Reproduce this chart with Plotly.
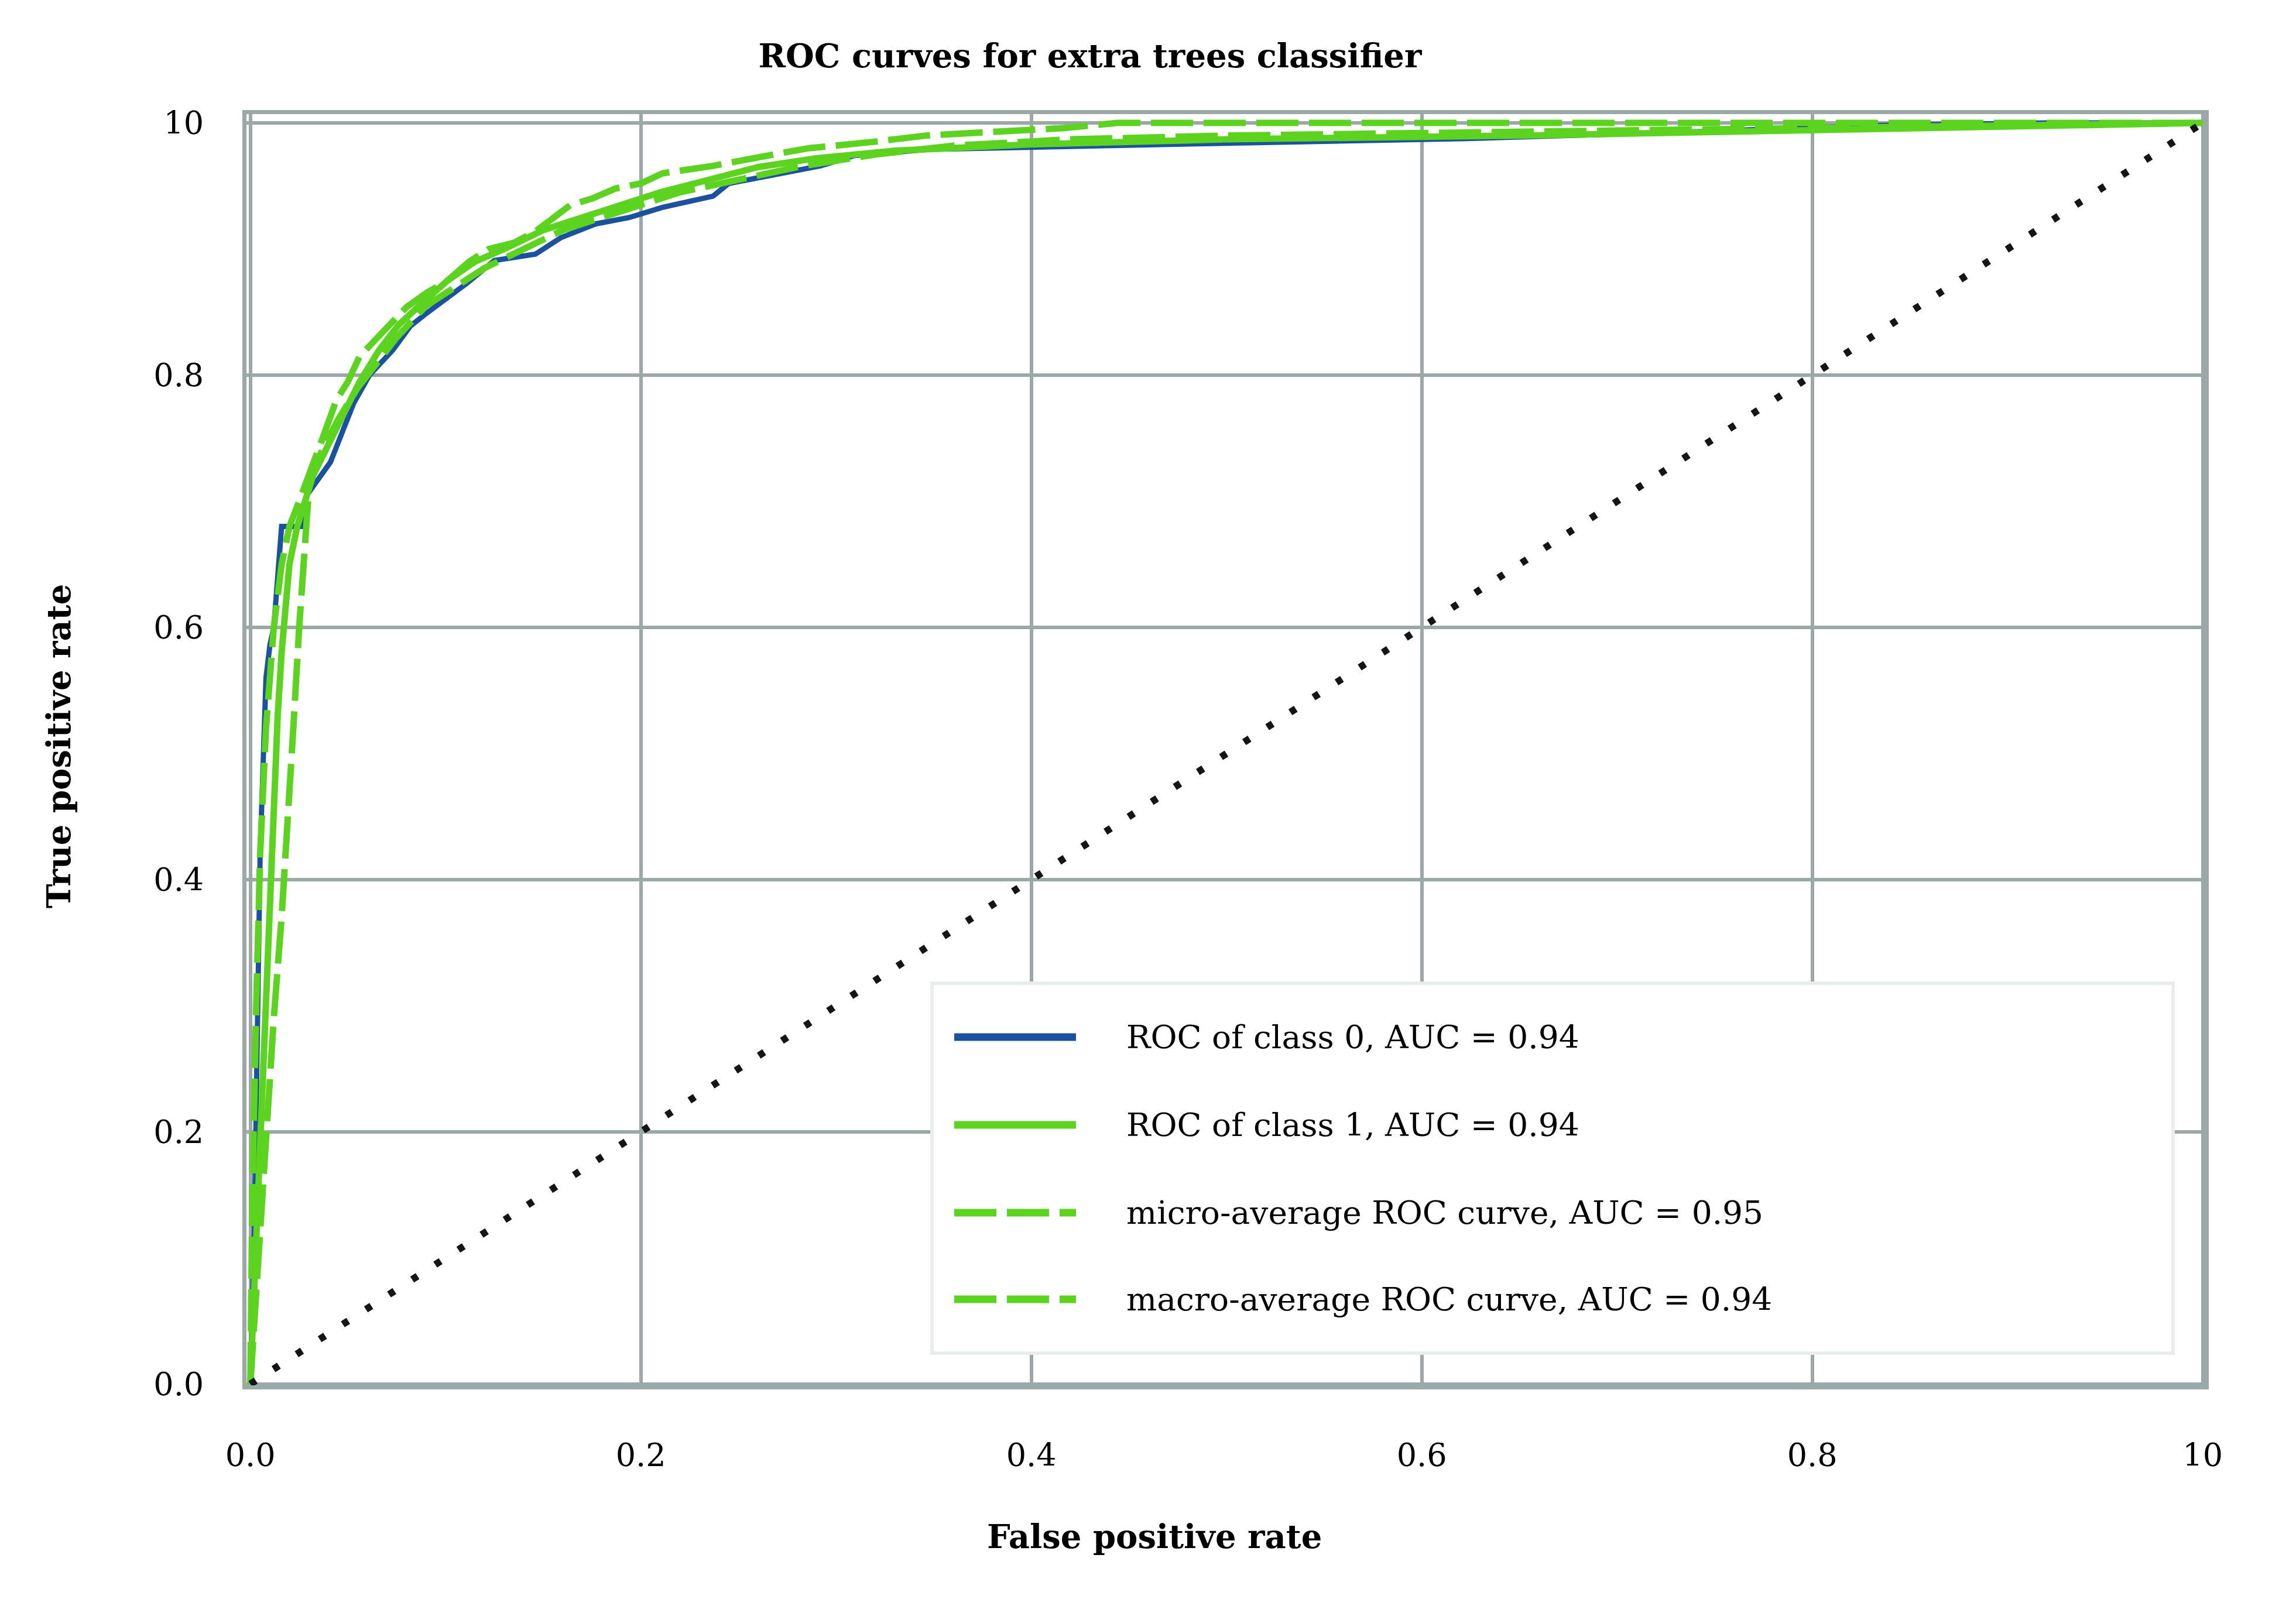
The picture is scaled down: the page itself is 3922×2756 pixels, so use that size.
import plotly.graph_objects as go

# ---------------- data ----------------
fpr_class0 = [0.0, 0.001, 0.002, 0.003, 0.004, 0.005, 0.008, 0.010, 0.012, 0.014, 0.016, 0.026,
              0.029, 0.041, 0.053, 0.061, 0.073, 0.082, 0.091, 0.111, 0.125, 0.146, 0.159, 0.177,
              0.194, 0.211, 0.237, 0.245, 0.271, 0.292, 0.309, 0.347, 0.470, 0.620, 0.740, 0.830,
              0.920, 1.0]
tpr_class0 = [0.0, 0.05, 0.12, 0.22, 0.33, 0.42, 0.56, 0.586, 0.60, 0.64, 0.68, 0.68,
              0.705, 0.731, 0.778, 0.800, 0.820, 0.839, 0.850, 0.873, 0.891, 0.896, 0.909, 0.920,
              0.925, 0.933, 0.942, 0.952, 0.960, 0.966, 0.974, 0.979, 0.983, 0.9875, 0.993, 0.998,
              1.0, 1.0]

fpr_class1 = [0.0, 0.002, 0.004, 0.006, 0.008, 0.010, 0.012, 0.014, 0.016, 0.018, 0.020, 0.024,
              0.028, 0.032, 0.040, 0.048, 0.056, 0.066, 0.076, 0.090, 0.101, 0.115, 0.130, 0.150,
              0.170, 0.190, 0.210, 0.235, 0.260, 0.290, 0.330, 0.400, 0.500, 0.650, 0.800, 0.950, 1.0]
tpr_class1 = [0.0, 0.08, 0.16, 0.24, 0.32, 0.40, 0.47, 0.53, 0.58, 0.62, 0.65, 0.68,
              0.70, 0.72, 0.745, 0.77, 0.795, 0.82, 0.84, 0.86, 0.875, 0.89, 0.90, 0.915,
              0.925, 0.935, 0.945, 0.955, 0.965, 0.972, 0.978, 0.983, 0.987, 0.990, 0.994, 0.998, 1.0]

fpr_micro = [0.0, 0.001, 0.003, 0.005, 0.008, 0.012, 0.016, 0.020, 0.025, 0.030, 0.037, 0.044,
             0.050, 0.056, 0.062, 0.070, 0.080, 0.090, 0.101, 0.112, 0.122, 0.135, 0.146, 0.164,
             0.175, 0.187, 0.200, 0.211, 0.237, 0.268, 0.286, 0.319, 0.346, 0.417, 0.444, 1.0]
tpr_micro = [0.0, 0.15, 0.30, 0.42, 0.52, 0.60, 0.65, 0.68, 0.70, 0.72, 0.75, 0.78,
             0.795, 0.815, 0.825, 0.839, 0.854, 0.865, 0.875, 0.89, 0.90, 0.905, 0.914, 0.935,
             0.94, 0.948, 0.952, 0.960, 0.966, 0.975, 0.98, 0.985, 0.99, 0.996, 1.0, 1.0]

fpr_macro = [0.0, 0.004, 0.008, 0.012, 0.016, 0.019, 0.022, 0.025, 0.028, 0.030, 0.035, 0.045,
             0.055, 0.065, 0.075, 0.090, 0.105, 0.120, 0.140, 0.160, 0.180, 0.200, 0.220, 0.250,
             0.280, 0.320, 0.360, 0.420, 0.500, 0.600, 0.750, 0.900, 1.0]
tpr_macro = [0.0, 0.10, 0.20, 0.29, 0.37, 0.44, 0.52, 0.60, 0.66, 0.71, 0.735, 0.765,
             0.79, 0.81, 0.83, 0.855, 0.87, 0.885, 0.90, 0.915, 0.925, 0.935, 0.945, 0.955,
             0.965, 0.975, 0.982, 0.987, 0.99, 0.992, 0.995, 0.998, 1.0]

diag_x = [0.0, 1.0]
diag_y = [0.0, 1.0]

series_names = ["ROC of class 0, AUC = 0.94",
                "ROC of class 1, AUC = 0.94",
                "micro-average ROC curve, AUC = 0.95",
                "macro-average ROC curve, AUC = 0.94"]

tick_vals = [0.0, 0.2, 0.4, 0.6, 0.8, 1.0]
x_tick_text = ["0.0", "0.2", "0.4", "0.6", "0.8", "10"]
y_tick_text = ["0.0", "0.2", "0.4", "0.6", "0.8", "10"]

title_text = "ROC curves for extra trees classifier"
x_title = "False positive rate"
y_title = "True positive rate"

# ---------------- styles ----------------
BLUE = "#1b52a0"
GREEN = "#5cd41f"
GRID = "#9ca8a8"
FONT = "DejaVu Serif"
DASH = "72px,18px"

styles = [
    dict(color=BLUE, width=9, dash="solid"),
    dict(color=GREEN, width=11, dash="solid"),
    dict(color=GREEN, width=11, dash=DASH),
    dict(color=GREEN, width=11, dash=DASH),
]
xs = [fpr_class0, fpr_class1, fpr_micro, fpr_macro]
ys = [tpr_class0, tpr_class1, tpr_micro, tpr_macro]

fig = go.Figure()
for name, x, y, st in zip(series_names, xs, ys, styles):
    fig.add_trace(go.Scatter(x=x, y=y, mode="lines", name=name, line=st,
                             showlegend=False))

fig.add_trace(go.Scatter(x=diag_x, y=diag_y, mode="lines", name="chance",
                         line=dict(color="#151515", width=12, dash="11px,36px"),
                         showlegend=False))

W, H = 3922, 2756
L, R, T, B = 421, 156, 195, 389

fig.update_layout(
    width=W, height=H,
    margin=dict(l=L, r=R, t=T, b=B, pad=0),
    paper_bgcolor="white", plot_bgcolor="white",
    font=dict(family=FONT, color="black", size=50),
    title=dict(text="<b>" + title_text + "</b>", x=1862 / W, xanchor="center",
               y=1 - 95 / H, yanchor="middle",
               font=dict(family=FONT, size=56, color="black")),
    xaxis=dict(range=[-0.002, 1.001], tickvals=tick_vals, ticktext=x_tick_text,
               showgrid=True, gridcolor=GRID, gridwidth=6, zeroline=False,
               showline=True, linecolor=GRID, linewidth=7, mirror=True,
               ticks="", ticklabelstandoff=66,
               tickfont=dict(family=FONT, size=54, color="black")),
    yaxis=dict(range=[-0.001, 1.007], tickvals=tick_vals, ticktext=y_tick_text,
               showgrid=True, gridcolor=GRID, gridwidth=6, zeroline=False,
               showline=True, linecolor=GRID, linewidth=7, mirror=True,
               ticks="", ticklabelstandoff=55,
               tickfont=dict(family=FONT, size=54, color="black")),
)

# axis titles as annotations (positioned as in the reference)
fig.add_annotation(text="<b>" + x_title + "</b>", xref="paper", yref="paper",
                   x=(1972 - L) / (W - L - R), y=-(2625 - (H - B)) / (H - T - B),
                   xanchor="center", yanchor="middle", showarrow=False,
                   font=dict(family=FONT, size=56, color="black"))
fig.add_annotation(text="<b>" + y_title + "</b>", xref="paper", yref="paper",
                   x=-(L - 100) / (W - L - R), y=((H - B) - 1275) / (H - T - B),
                   xanchor="center", yanchor="middle", textangle=-90, showarrow=False,
                   font=dict(family=FONT, size=56, color="black"))

# legend box (drawn in paper coordinates of the plot area)
pw, ph = W - L - R, H - T - B
def px(X):
    return (X - L) / pw
def py(Y):
    return ((H - B) - Y) / ph

fig.add_shape(type="rect", xref="paper", yref="paper",
              x0=px(1592), x1=px(3712), y0=py(2312), y1=py(1680),
              fillcolor="white", line=dict(color="#e8ecec", width=6), layer="above")

row_Y = [1772, 1922, 2072, 2220]
for name, st, Y in zip(series_names, styles, row_Y):
    fig.add_shape(type="line", xref="paper", yref="paper",
                  x0=px(1630), x1=px(1838), y0=py(Y), y1=py(Y),
                  line=dict(color=st["color"], width=13, dash=st["dash"]), layer="above")
    fig.add_annotation(text=name, xref="paper", yref="paper",
                       x=px(1922), y=py(Y), xanchor="left", yanchor="middle",
                       showarrow=False, font=dict(family=FONT, size=55, color="black"))

fig.write_html("out.html")
